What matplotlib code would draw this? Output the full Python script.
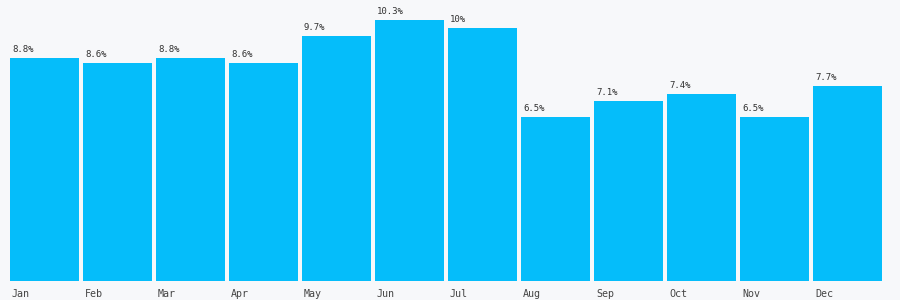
import matplotlib
matplotlib.use("Agg")
import matplotlib.pyplot as plt
from matplotlib.transforms import offset_copy, ScaledTranslation

months = ["Jan", "Feb", "Mar", "Apr", "May", "Jun", "Jul", "Aug", "Sep", "Oct", "Nov", "Dec"]
values = [8.8, 8.6, 8.8, 8.6, 9.7, 10.3, 10.0, 6.5, 7.1, 7.4, 6.5, 7.7]
labels = ["8.8%", "8.6%", "8.8%", "8.6%", "9.7%", "10.3%", "10%", "6.5%", "7.1%", "7.4%", "6.5%", "7.7%"]

bg = "#f7f8fa"
bar_color = "#05bdfa"
text_color = "#444444"

fig = plt.figure(figsize=(9, 3), dpi=100, facecolor=bg)
ax = fig.add_axes([10/900, 19/300, 876/900, 281/300])
ax.set_facecolor(bg)

x = list(range(len(months)))
ax.bar(x, values, width=69/73, align="edge", color=bar_color, linewidth=0)
ax.set_xlim(0, 12)
ax.set_ylim(0, 281/25.3)

for xi, v, lab in zip(x, values, labels):
    tr = offset_copy(ax.transData, fig=fig, x=2, y=4, units="dots")
    ax.text(xi, v, lab, transform=tr, ha="left", va="bottom",
            fontsize=6.5, family="DejaVu Sans Mono", color="#333333")

ax.set_xticks(x)
ax.set_xticklabels(months, ha="left", fontsize=7.2, family="DejaVu Sans Mono", color=text_color)
ax.tick_params(axis="x", length=0, pad=6)
for t in ax.get_xticklabels():
    t.set_transform(t.get_transform() + ScaledTranslation(2/100, 0, fig.dpi_scale_trans))
ax.set_yticks([])
for s in ax.spines.values():
    s.set_visible(False)

fig.savefig("out.png", dpi=100, facecolor=bg)
